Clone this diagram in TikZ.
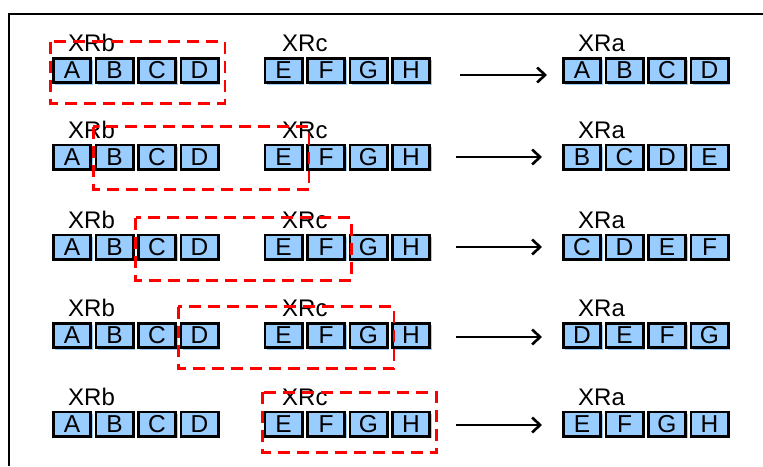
\documentclass[tikz,border=0pt]{standalone}
\usepackage{fontspec}
\setmainfont{Liberation Sans}
\usetikzlibrary{arrows.meta,shadows,calc}
\definecolor{cellblue}{RGB}{153,204,255}

\begin{document}
\begin{tikzpicture}[x=1pt,y=-1pt,
  cell/.style={draw=black, line width=2.8pt, fill=cellblue,
    minimum width=37.2pt, minimum height=24.2pt, inner sep=0pt,
    font=\fontsize{24.5}{24.5}\selectfont,
    drop shadow={shadow xshift=2pt, shadow yshift=-2pt, fill=cellblue, opacity=1}},
  lbl/.style={anchor=base west, inner sep=0pt, font=\fontsize{24}{24}\selectfont},
  window/.style={draw=red, line width=2.7pt, dash pattern=on 12pt off 7pt},
  shiftarrow/.style={draw=black, line width=2.7pt,
    -{Straight Barb[length=8pt,width=15pt,line width=2.6pt]}},
  frame/.style={draw=black, line width=2.2pt}]

\useasboundingbox (0,0) rectangle (763,466);

% outer frame (open towards the right and bottom)
\draw[frame] (9,466) -- (9,14) -- (763,14);

% the three registers of every row
\foreach \r/\y/\w in {1/70.5/{A,B,C,D},2/157/{B,C,D,E},3/247/{C,D,E,F},
                      4/335.5/{D,E,F,G},5/424/{E,F,G,H}}{
  \foreach \L [count=\i from 0] in {A,B,C,D}
    \node[cell] (b\r-\L) at (72+\i*42.5,\y) {\L};
  \foreach \L [count=\i from 0] in {E,F,G,H}
    \node[cell] (c\r-\L) at (283.5+\i*42.5,\y) {\L};
  \foreach \L [count=\i from 0] in \w
    \node[cell] (a\r-\i) at (582+\i*42.5,\y) {\L};
  \node[lbl] (xb\r) at (68,\y-19) {XRb};
  \node[lbl] (xc\r) at (282,\y-19) {XRc};
  \node[lbl] (xa\r) at (578,\y-19) {XRa};
}

% sliding windows
\foreach \r/\p/\q/\t/\u in {1/b1-A/b1-D/15.3/19.3, 2/b2-B/c2-E/16.8/18.8,
                            3/b3-C/c3-F/15.8/19.8, 4/b4-D/c4-G/15.3/19.3,
                            5/c5-E/c5-H/18.3/15.3}{
  \draw[window] ($(\p.north west)+(-1.2,-\t)$) rectangle ($(\q.south east)+(5.5,\u)$);
}

% shift arrows
\coordinate (s1) at (460,75);   \coordinate (t1) at (547,75);
\coordinate (s2) at (456,157);  \coordinate (t2) at (542,157);
\coordinate (s3) at (456,247);  \coordinate (t3) at (542,247);
\coordinate (s4) at (456,337);  \coordinate (t4) at (542,337);
\coordinate (s5) at (456,425);  \coordinate (t5) at (542,425);
\foreach \r in {1,...,5}
  \draw[shiftarrow] (s\r) -- (t\r);

\end{tikzpicture}
\end{document}
